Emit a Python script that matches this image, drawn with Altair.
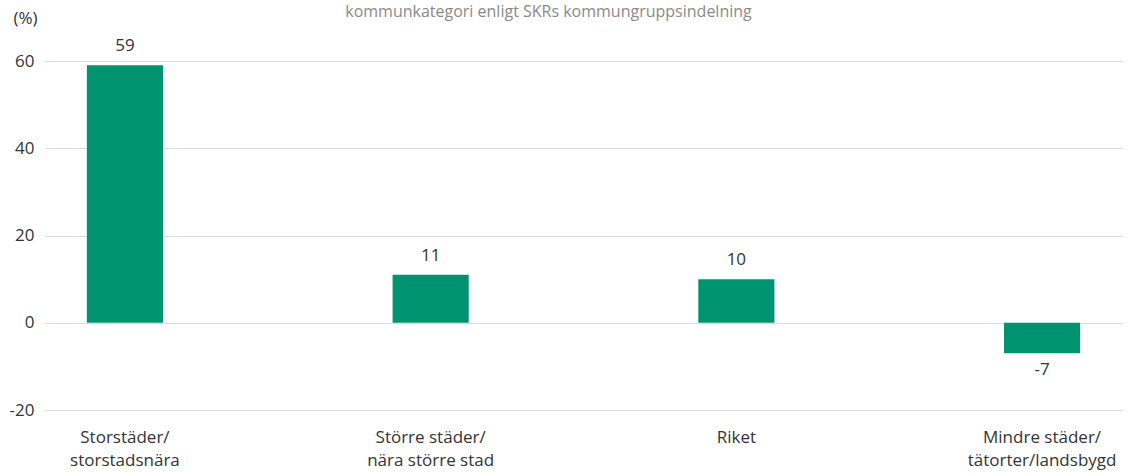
import altair as alt
import pandas as pd

categories = ["Storstäder/|storstadsnära", "Större städer/|nära större stad", "Riket", "Mindre städer/|tätorter/landsbygd"]
values = [59, 11, 10, -7]
y_ticks = [-20, 0, 20, 40, 60]

df = pd.DataFrame({"kat": categories, "v": values})
df["lbl"] = df["v"].astype(str)
FONT = "Open Sans"
GREEN = "#00936F"
TXT = "#333333"
FS = 17

x = alt.X("kat:N", sort=categories,
          scale=alt.Scale(paddingInner=0.751, paddingOuter=0.137),
          axis=alt.Axis(title=None, labelAngle=0, labelExpr="split(datum.label, '|')",
                        labelFont=FONT, labelFontSize=FS, labelColor=TXT, labelLineHeight=23,
                        labelPadding=27, ticks=False, domain=False, labelBaseline="middle"))
y = alt.Y("v:Q", scale=alt.Scale(domain=[-20, 60], nice=False),
          axis=alt.Axis(values=y_ticks, title="(%)", titleAngle=0, titleAlign="left",
                        titleBaseline="middle", titleX=-32, titleY=-43, titleFont=FONT,
                        titleFontSize=FS, titleFontWeight="normal", titleColor=TXT,
                        labelExpr="toString(datum.value)",
                        labelFont=FONT, labelFontSize=FS, labelColor=TXT, labelPadding=11,
                        ticks=False, domain=False, gridColor="#dcdcdc", gridWidth=1))

base = alt.Chart(df)
bars = base.mark_bar(color=GREEN).encode(x=x, y=y)
pos = base.transform_filter("datum.v >= 0").mark_text(
    font=FONT, fontSize=FS, color=TXT, baseline="alphabetic", dy=-14).encode(
    x=alt.X("kat:N", sort=categories), y="v:Q", text="lbl:N")
neg = base.transform_filter("datum.v < 0").mark_text(
    font=FONT, fontSize=FS, color=TXT, baseline="alphabetic", dy=22).encode(
    x=alt.X("kat:N", sort=categories), y="v:Q", text="lbl:N")

chart = alt.layer(bars, pos, neg).properties(
    width=1077, height=349,
    background="white",
    title=alt.TitleParams("kommunkategori enligt SKRs kommungruppsindelning",
                          font=FONT, fontSize=16, fontWeight="normal", color="#8a8a8a",
                          anchor="middle", dx=-35, dy=19, offset=0, baseline="middle"),
    padding={"left": 45, "top": 61, "right": 16, "bottom": 63},
    autosize=alt.AutoSizeParams(type="none"),
).configure_view(stroke=None)

chart.save("out.html", embed_options={"renderer": "svg", "actions": False})
